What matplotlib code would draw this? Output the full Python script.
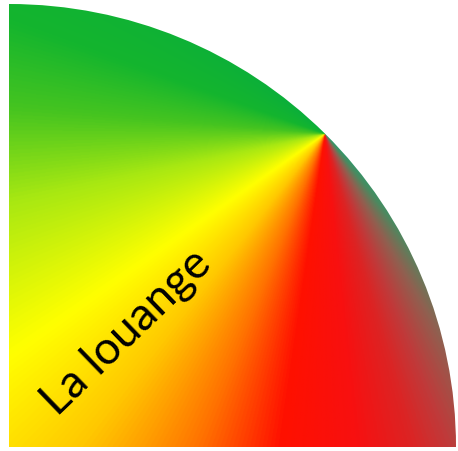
import numpy as np
import matplotlib
matplotlib.use("Agg")
import matplotlib.pyplot as plt
from matplotlib.colors import LinearSegmentedColormap
from matplotlib.patches import Ellipse

# colour stops of the conic gradient (angle in degrees around the apex)
stop_angles = [135, 160, 175, 192, 215, 232, 248, 262, 276, 286, 292, 300, 308, 318]
stop_colors = ['#0aae3c', '#14b52e', '#45c420', '#a8e812', '#ffff00', '#ffc800',
               '#ff7200', '#ff1000', '#f81010', '#dc2424', '#c03a3a', '#906050',
               '#4a8a60', '#22a070']
label = "La louange"

W, H = 458, 452
cx, cy = 9, 4                  # corner of the quarter disc (pixel units, y up)
rx, ry = 447, 443
apex_deg = 45

fig = plt.figure(figsize=(W / 100, H / 100), dpi=100)
ax = fig.add_axes([0, 0, 1, 1])
ax.set_xlim(0, W)
ax.set_ylim(0, H)
ax.axis('off')

px = cx + rx * np.cos(np.radians(apex_deg))
py = cy + ry * np.sin(np.radians(apex_deg))

xs = np.linspace(cx, W, 600)
ys = np.linspace(cy, H, 600)
X, Y = np.meshgrid(xs, ys)
ang = np.degrees(np.arctan2(Y - py, X - px)) % 360
ang = np.clip(ang, stop_angles[0], stop_angles[-1])

a0, a1 = stop_angles[0], stop_angles[-1]
pos = [(a - a0) / (a1 - a0) for a in stop_angles]
cmap = LinearSegmentedColormap.from_list('conic', list(zip(pos, stop_colors)))
vals = (ang - a0) / (a1 - a0)

im = ax.imshow(vals, cmap=cmap, vmin=0, vmax=1, origin='lower',
               extent=[cx, W, cy, H], interpolation='bilinear')
clip = Ellipse((cx, cy), 2 * rx, 2 * ry, transform=ax.transData)
im.set_clip_path(clip)

ax.text(127, 120, label, rotation=44, rotation_mode='anchor',
        ha='center', va='center', fontsize=33, family='Lato', color='black')

fig.savefig('out.png', dpi=100)
